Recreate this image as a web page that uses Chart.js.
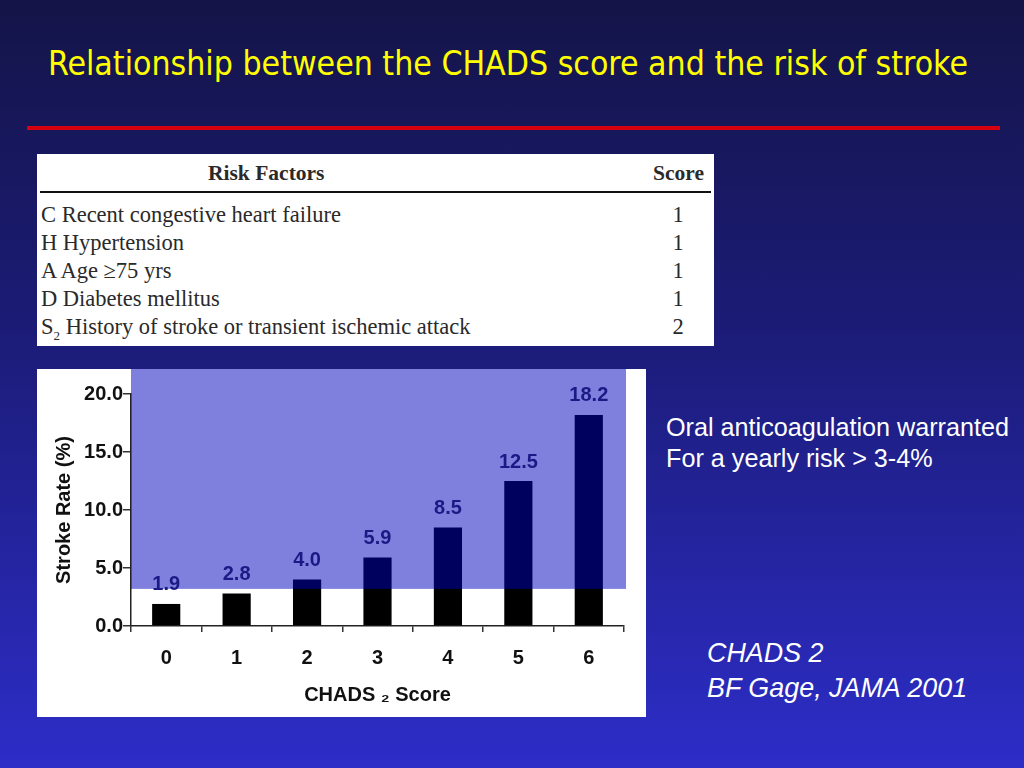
<!DOCTYPE html>
<html>
<head>
<meta charset="utf-8">
<script src="https://cdn.jsdelivr.net/npm/chart.js@4"></script>
<style>
  html, body { margin: 0; padding: 0; }
  body {
    width: 1024px; height: 768px; position: relative; overflow: hidden;
    background: linear-gradient(to bottom, #141448 0%, #1c1c7a 45%, #2d2dc8 100%);
    font-family: "Liberation Sans", Arial, sans-serif;
  }
  #title {
    position: absolute; left: 48px; top: 44px;
    color: #ffff00; font-family: "Liberation Sans Narrow", "DejaVu Sans Condensed", sans-serif;
    font-size: 33.5px; white-space: nowrap;
  }
  #rule { position: absolute; left: 27px; top: 126px; width: 973px; height: 4px; background: #d6000f; }
  #risk {
    position: absolute; left: 37px; top: 154px; width: 677px; height: 192px; background: #fff;
    font-family: "Liberation Serif", serif; color: #2a2a2a; font-size: 22.5px;
  }
  #risk .fila { position: absolute; left: 4px; width: 669px; height: 28px; line-height: 28px; white-space: nowrap; }
  #risk .sc { position: absolute; right: 12px; width: 40px; text-align: center; }
  #risk .cab { font-weight: bold; font-size: 21.5px; }
  #risk .raya { position: absolute; left: 3px; width: 671px; top: 37px; height: 2px; background: #111; }
  #box { position: absolute; left: 37px; top: 369px; width: 609px; height: 348px; background: #fff; }
  .note { position: absolute; color: #fff; font-family: "Liberation Sans", Arial, sans-serif; white-space: nowrap; }
</style>
</head>
<body>
<div id="title">Relationship between the CHADS score and the risk of stroke</div>
<div id="rule"></div>

<div id="risk">
  <div class="fila cab" style="top:5px;"><span style="position:absolute; left:167px;">Risk Factors</span><span class="sc" style="right:4px; width:55px;">Score</span></div>
  <div class="raya"></div>
  <div class="fila" style="top:47px;">C Recent congestive heart failure<span class="sc">1</span></div>
  <div class="fila" style="top:75px;">H Hypertension<span class="sc">1</span></div>
  <div class="fila" style="top:103px;">A Age &ge;75 yrs<span class="sc">1</span></div>
  <div class="fila" style="top:131px;">D Diabetes mellitus<span class="sc">1</span></div>
  <div class="fila" style="top:159px;">S<span style="font-size:13px; position:relative; top:6px;">2</span> History of stroke or transient ischemic attack<span class="sc">2</span></div>
</div>

<div id="box"><canvas id="strokes" width="609" height="348"></canvas></div>

<div class="note" style="left:666px; top:412px; font-size:25.2px; line-height:31px;">Oral anticoagulation warranted<br>For a yearly risk &gt; 3-4%</div>
<div class="note" style="left:707px; top:636px; font-size:26.9px; line-height:35px; font-style:italic;">CHADS 2<br>BF Gage, JAMA 2001</div>

<script>
var puntajes = ['0', '1', '2', '3', '4', '5', '6'];
var tasaAcv = [1.9, 2.8, 4.0, 5.9, 8.5, 12.5, 18.2];
var marcasY = [0, 5, 10, 15, 20];
var umbral = 3.2;

var fuente = '"Liberation Sans", Arial, sans-serif';

// franja azul de riesgo por encima del umbral + etiquetas de valor
var franja = {
  id: 'franja',
  afterDatasetsDraw: function (chart) {
    var ctx = chart.ctx, a = chart.chartArea;
    var yU = chart.scales.y.getPixelForValue(umbral);
    ctx.save();
    ctx.fillStyle = 'rgba(0, 0, 190, 0.5)';
    ctx.fillRect(a.left, 0, a.right - a.left + 2, yU);
    ctx.restore();
  },
  afterDraw: function (chart) {
    var ctx = chart.ctx;
    var meta = chart.getDatasetMeta(0);
    ctx.save();
    ctx.fillStyle = '#1a1a86';
    ctx.font = 'bold 20px ' + fuente;
    ctx.textAlign = 'center';
    ctx.textBaseline = 'middle';
    meta.data.forEach(function (bar, i) {
      ctx.fillText(tasaAcv[i].toFixed(1), bar.x, bar.y - 19);
    });
    ctx.restore();
  }
};

var ctx = document.getElementById('strokes').getContext('2d');
var barChart = new Chart(ctx, {
  type: 'bar',
  data: {
    labels: puntajes,
    datasets: [{
      label: 'Stroke Rate (%)',
      data: tasaAcv,
      backgroundColor: '#000000',
      categoryPercentage: 1,
      barPercentage: 0.4
    }]
  },
  options: {
    responsive: false,
    animation: false,
    events: [],
    layout: { padding: { top: 25, right: 22, left: 0, bottom: 0 } },
    plugins: { legend: { display: false }, tooltip: { enabled: false } },
    scales: {
      x: {
        offset: true,
        grid: { display: true, drawOnChartArea: false, offset: true, tickLength: 6, color: '#333', lineWidth: 1.5 },
        border: { color: '#222', width: 1.5 },
        ticks: { color: '#111', font: { size: 20, weight: 'bold', family: fuente }, padding: 14 },
        title: { display: true, text: 'CHADS \u2082 Score', color: '#111', font: { size: 20, weight: 'bold', family: fuente }, padding: { top: 4, bottom: 10 } },
        afterFit: function (s) { s.height = 91; }
      },
      y: {
        min: 0, max: 20,
        afterBuildTicks: function (s) { s.ticks = marcasY.map(function (v) { return { value: v }; }); },
        grid: { display: true, drawOnChartArea: false, tickLength: 8, color: '#333', lineWidth: 1.5 },
        border: { color: '#222', width: 1.5 },
        ticks: {
          color: '#111', padding: 0,
          font: { size: 20, weight: 'bold', family: fuente },
          callback: function (v) { return Number(v).toFixed(1); }
        },
        title: { display: true, text: 'Stroke Rate (%)', color: '#111', font: { size: 20, weight: 'bold', family: fuente }, padding: { top: 15, bottom: 4 } },
        afterFit: function (s) { s.width = 94; }
      }
    }
  },
  plugins: [franja]
});
</script>
</body>
</html>
